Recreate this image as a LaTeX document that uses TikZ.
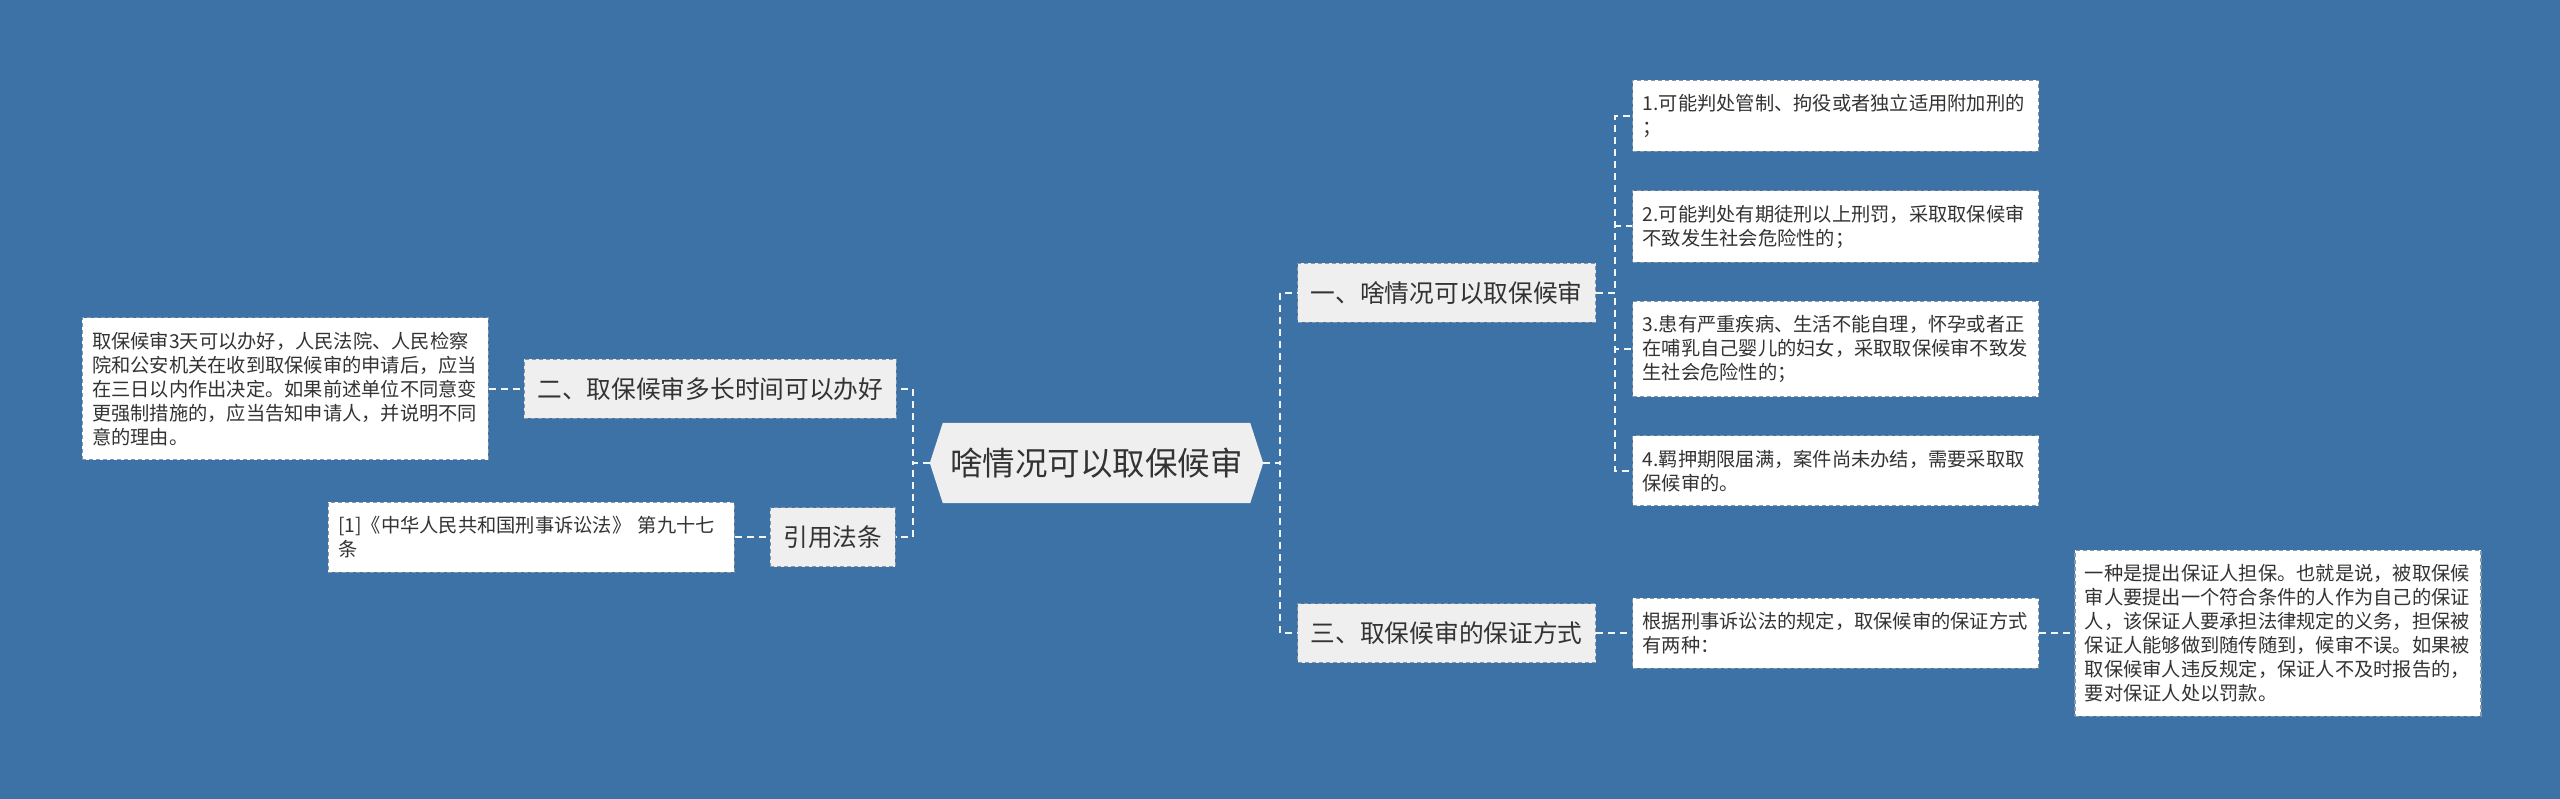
\documentclass[tikz,border=0pt]{standalone}
\usepackage{fontspec}
\usepackage{tikz}
\usetikzlibrary{positioning, backgrounds}
\newfontfamily\cjk{Noto Sans CJK SC}
\definecolor{canvas}{HTML}{3D72A6}
\definecolor{paper}{HTML}{EFEFEF}
\definecolor{edge}{HTML}{8797A8}
\definecolor{ink}{HTML}{333333}
\definecolor{wire}{HTML}{F2F5F9}

\begin{document}
\begin{tikzpicture}[
  x=1pt, y=-1pt,
  root/.style={minimum width=333pt, minimum height=80pt, inner sep=0pt,
               font=\cjk\fontsize{32.5}{36}\selectfont, text=ink},
  topic/.style={draw=edge, line width=1.2pt, dash pattern=on 4pt off 3pt, fill=paper,
                minimum height=59pt, inner xsep=13pt, inner ysep=0pt,
                font=\cjk\fontsize{24.7}{28}\selectfont, text=ink},
  leaf/.style={draw=edge, line width=1.2pt, dash pattern=on 4pt off 3pt, fill=white,
               text width=386pt, align=left, inner xsep=10pt, inner ysep=14pt,
               font=\cjk\fontsize{19.25}{24}\selectfont, text=ink},
  link/.style={draw=wire, line width=2pt, dash pattern=on 7pt off 5pt}
]
\useasboundingbox (0,0) rectangle (2560,799);
\begin{scope}[on background layer]
\fill[canvas] (0,0) rectangle (2560,799);
\end{scope}

\node[root] (root) at (1096.5,463) {啥情况可以取保候审};

% left branch
\node[topic, above left=4pt and 33pt of root] (two) {二、取保候审多长时间可以办好};
\node[topic, below left=4pt and 34pt of root] (law) {引用法条};
\node[leaf, left=35pt of two] (twotxt) {取保候审3天可以办好，人民法院、人民检察\\院和公安机关在收到取保候审的申请后，应当\\在三日以内作出决定。如果前述单位不同意变\\更强制措施的，应当告知申请人，并说明不同\\意的理由。};
\node[leaf, left=35pt of law] (lawtxt) {[1]《中华人民共和国刑事诉讼法》 第九十七\\条};

% right branch
\node[topic, above right=100pt and 34pt of root] (one) {一、啥情况可以取保候审};
\node[topic, below right=100pt and 34pt of root] (three) {三、取保候审的保证方式};
\node[leaf, above right=110.5pt and 36pt of one] (c1) {1.可能判处管制、拘役或者独立适用附加刑的\\；};
\node[leaf, below=38pt of c1] (c2) {2.可能判处有期徒刑以上刑罚，采取取保候审\\不致发生社会危险性的；};
\node[leaf, below=38pt of c2] (c3) {3.患有严重疾病、生活不能自理，怀孕或者正\\在哺乳自己婴儿的妇女，采取取保候审不致发\\生社会危险性的；};
\node[leaf, below=38pt of c3] (c4) {4.羁押期限届满，案件尚未办结，需要采取取\\保候审的。};
\node[leaf, right=36pt of three] (ways) {根据刑事诉讼法的规定，取保候审的保证方式\\有两种：};
\node[leaf, right=35pt of ways] (guar) {一种是提出保证人担保。也就是说，被取保候\\审人要提出一个符合条件的人作为自己的保证\\人，该保证人要承担法律规定的义务，担保被\\保证人能够做到随传随到，候审不误。如果被\\取保候审人违反规定，保证人不及时报告的，\\要对保证人处以罚款。};

\begin{scope}[on background layer]
\fill[paper] (root.west) -- ([xshift=13pt]root.north west) -- ([xshift=-13pt]root.north east)
  -- (root.east) -- ([xshift=-13pt]root.south east) -- ([xshift=13pt]root.south west) -- cycle;
\end{scope}

\draw[link] (root.west) -- ++(-17pt,0) |- (two.east);
\draw[link] (root.west) -- ++(-17pt,0) |- (law.east);
\draw[link] (root.east) -- ++(17pt,0) |- (one.west);
\draw[link] (root.east) -- ++(17pt,0) |- (three.west);
\draw[link] (twotxt) -- (two);
\draw[link] (lawtxt) -- (law);
\foreach \c in {c1,c2,c3,c4}
  \draw[link] (one.east) -- ++(19pt,0) |- (\c.west);
\draw[link] (three) -- (ways);
\draw[link] (ways) -- (guar);
\end{tikzpicture}
\end{document}
